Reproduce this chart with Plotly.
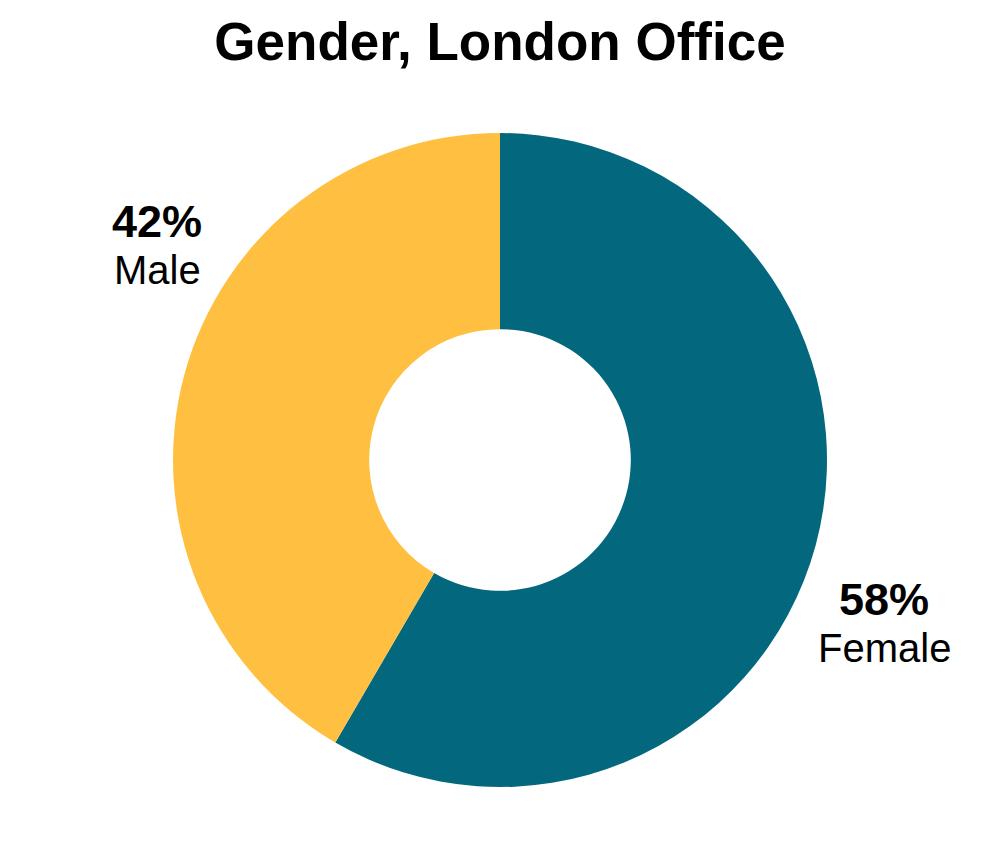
import plotly.graph_objects as go

labels = ["Female", "Male"]
values = [58.4, 41.6]
colors = ["#03687D", "#FFBF41"]
title_text = "Gender, London Office"

W, H, OFF = 1000, 850, 8  # page body margin offset in px


def px_x(x):
    return (x - OFF) / W


def px_y(y):
    return 1 - (y - OFF) / H


# label positions in px: (center x, pct line center y, name line center y)
label_pos = {"Female": (884, 599, 648), "Male": (157, 222, 270)}

fig = go.Figure()
fig.add_trace(go.Pie(
    labels=labels,
    values=values,
    hole=0.4,
    sort=False,
    direction="clockwise",
    rotation=0,
    marker=dict(colors=colors, line=dict(width=0)),
    textinfo="none",
    hoverinfo="label+percent",
    showlegend=False,
    domain=dict(x=[px_x(173), px_x(827)], y=[px_y(787), px_y(133)]),
))

total = sum(values)
font_family = "Liberation Sans, Arial, sans-serif"
for lab, val in zip(labels, values):
    cx, y1, y2 = label_pos[lab]
    fig.add_annotation(
        x=px_x(cx), y=px_y(y1), xref="paper", yref="paper",
        xanchor="center", yanchor="middle",
        text=f"<b>{round(100 * val / total)}%</b>",
        showarrow=False,
        font=dict(family=font_family, size=45, color="#000000"),
    )
    fig.add_annotation(
        x=px_x(cx), y=px_y(y2), xref="paper", yref="paper",
        xanchor="center", yanchor="middle",
        text=lab,
        showarrow=False,
        font=dict(family=font_family, size=40, color="#000000"),
    )

fig.update_layout(
    width=W, height=H,
    margin=dict(l=0, r=0, t=0, b=0),
    paper_bgcolor="white", plot_bgcolor="white",
    title=dict(
        text=f"<b>{title_text}</b>",
        x=px_x(500), xanchor="center", y=px_y(41), yanchor="middle",
        font=dict(family=font_family, size=53, color="#000000"),
    ),
)

fig.write_html("out.html")
